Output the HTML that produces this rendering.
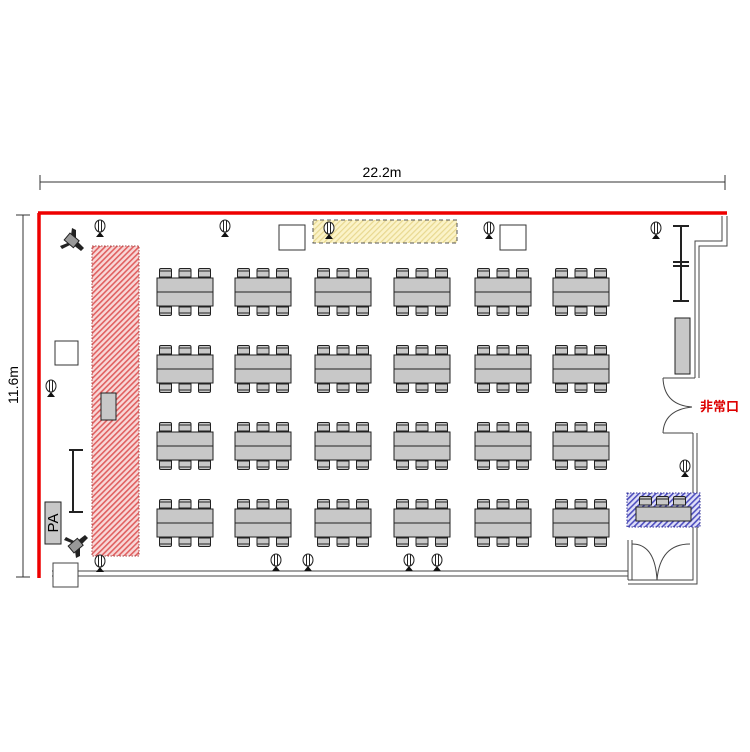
<!DOCTYPE html>
<html><head><style>body{margin:0;background:#fff}svg{display:block}</style></head><body>
<svg width="750" height="752" viewBox="0 0 750 752" xmlns="http://www.w3.org/2000/svg" font-family="Liberation Sans, sans-serif">
<defs>
<pattern id="rh" width="4" height="4" patternUnits="userSpaceOnUse" patternTransform="rotate(45)"><rect width="4" height="4" fill="#f8d8d8"/><rect width="1.6" height="4" fill="#e06060"/></pattern>
<pattern id="yh" width="4" height="4" patternUnits="userSpaceOnUse" patternTransform="rotate(45)"><rect width="4" height="4" fill="#fbf3c8"/><rect width="1.2" height="4" fill="#e8d890"/></pattern>
<pattern id="bh" width="4" height="4" patternUnits="userSpaceOnUse" patternTransform="rotate(45)"><rect width="4" height="4" fill="#e0e0f8"/><rect width="1.6" height="4" fill="#5050c0"/></pattern>
<g id="ch"><path d="M0.5 9 V2 Q0.5 0.5 2 0.5 H11 Q12.5 0.5 12.5 2 V9 Z" fill="#c8c8c8" stroke="#222" stroke-width="1"/><line x1="0.5" y1="3" x2="12.5" y2="3" stroke="#222"/></g>
<g id="tb">
<use href="#ch" x="-26" y="-24"/><use href="#ch" x="-6.5" y="-24"/><use href="#ch" x="13" y="-24"/>
<use href="#ch" x="-26" y="24" transform="scale(1,-1)" />
<rect x="-28" y="-14" width="56" height="28" fill="#c8c8c8" stroke="#222"/><line x1="-28" y1="0" x2="28" y2="0" stroke="#222"/>
</g>
<g id="tb2">
<use href="#ch" x="-26" y="-24"/><use href="#ch" x="-6.5" y="-24"/><use href="#ch" x="13" y="-24"/>
<g transform="scale(1,-1)"><use href="#ch" x="-26" y="-24"/><use href="#ch" x="-6.5" y="-24"/><use href="#ch" x="13" y="-24"/></g>
<rect x="-28" y="-14" width="56" height="28" fill="#c8c8c8" stroke="#222"/><line x1="-28" y1="0" x2="28" y2="0" stroke="#222"/>
</g>
<g id="mic"><ellipse cx="0" cy="-4" rx="5" ry="6" fill="#fff" stroke="#222"/><line x1="-1.5" y1="-10" x2="-1.5" y2="2" stroke="#222"/><line x1="1.5" y1="-10" x2="1.5" y2="2" stroke="#222"/><path d="M-4 7 L0 2 L4 7 Z" fill="#111"/></g>
</defs>
<!-- dimensions -->
<line x1="40" y1="182" x2="725" y2="182" stroke="#333"/>
<line x1="40" y1="175" x2="40" y2="190" stroke="#333"/><line x1="725" y1="175" x2="725" y2="190" stroke="#333"/>
<text x="382" y="177" font-size="14" text-anchor="middle">22.2m</text>
<line x1="23" y1="215" x2="23" y2="577" stroke="#333"/>
<line x1="16" y1="215" x2="30" y2="215" stroke="#333"/><line x1="16" y1="577" x2="30" y2="577" stroke="#333"/>
<text transform="translate(18,385) rotate(-90)" font-size="14" text-anchor="middle">11.6m</text>
<!-- walls -->
<path d="M52 571 H628 M52 576 H628" stroke="#444" stroke-width="1" fill="none"/>
<path d="M722 216 V241 H695 V378 M727 216 V246 H699 V378" stroke="#444" fill="none"/>
<path d="M663 378 H695 M663 433 H693" stroke="#444" fill="none"/>
<path d="M693 433 V580 H628 M697 433 V584 H628" stroke="#444" fill="none"/>
<path d="M628 540 V580 M632 540 V580" stroke="#444"/>
<path d="M632 544 Q655 544 657 580 M690 544 Q660 544 657 580" stroke="#444" fill="none"/>
<path d="M663 378 Q664 405 692 407 M663 433 Q664 410 692 407" stroke="#444" fill="none"/>
<path d="M38 213 H727 M39 213 V578" stroke="#e00" stroke-width="3.5" fill="none"/>
<rect x="53" y="563" width="25" height="24" fill="#fff" stroke="#444"/>
<text x="700" y="411" font-size="13" fill="#d00" font-family="Noto Sans CJK JP, sans-serif" font-weight="bold">非常口</text>
<!-- areas -->
<rect x="92" y="246" width="47" height="310" fill="url(#rh)" stroke="#a44" stroke-dasharray="1.5,1.5"/>
<rect x="101" y="393" width="15" height="27" fill="#c8c8c8" stroke="#222"/>
<rect x="313" y="220" width="144" height="23" fill="url(#yh)" stroke="#555" stroke-dasharray="4,3"/>
<rect x="279" y="225" width="26" height="25" fill="#fff" stroke="#333"/>
<rect x="500" y="225" width="26" height="25" fill="#fff" stroke="#333"/>
<rect x="55" y="341" width="23" height="24" fill="#fff" stroke="#333"/>
<rect x="675" y="318" width="15" height="56" fill="#c8c8c8" stroke="#222"/>
<rect x="45" y="502" width="16" height="42" fill="#c8c8c8" stroke="#222"/>
<text transform="translate(58,523) rotate(-90)" font-size="15" text-anchor="middle">PA</text>
<rect x="627" y="493" width="73" height="34" fill="url(#bh)" stroke="#339" stroke-dasharray="1.5,1.5"/>
<rect x="636" y="507" width="55" height="14" fill="#c8c8c8" stroke="#222"/>
<use href="#ch" x="639" y="496"/><use href="#ch" x="656" y="496"/><use href="#ch" x="673" y="496"/>
<!-- coat rack -->
<path d="M681 225 V300" stroke="#222" stroke-width="2"/>
<path d="M673 226 H689 M673 262 H689 M673 266 H689 M673 301 H689" stroke="#222" stroke-width="2"/>
<!-- screen stand -->
<path d="M73 450 V512 M69 512 H83 M69 450 H83" stroke="#222" stroke-width="2"/>
<!-- speakers -->
<g transform="translate(72,240)"><path d="M-12 6 L-2 2 L0 -12 L4 -10 L4 0 L12 8 L9 11 L0 4 L-10 9 Z" fill="#222"/><rect x="-6" y="-4" width="12" height="9" fill="#999" stroke="#222" transform="rotate(40)"/></g>
<g transform="translate(76,546)"><path d="M-12 -6 L-2 -2 L0 12 L4 10 L4 0 L12 -8 L9 -11 L0 -4 L-10 -9 Z" fill="#222"/><rect x="-6" y="-5" width="12" height="9" fill="#999" stroke="#222" transform="rotate(-40)"/></g>
<!-- mics -->
<use href="#mic" x="100" y="230"/><use href="#mic" x="225" y="230"/><use href="#mic" x="329" y="232"/>
<use href="#mic" x="489" y="232"/><use href="#mic" x="656" y="232"/><use href="#mic" x="51" y="390"/>
<use href="#mic" x="685" y="470"/><use href="#mic" x="100" y="565"/><use href="#mic" x="276" y="564"/>
<use href="#mic" x="308" y="564"/><use href="#mic" x="409" y="564"/><use href="#mic" x="437" y="564"/>
<!-- tables -->
<g>
<use href="#tb2" x="185" y="292"/><use href="#tb2" x="263" y="292"/><use href="#tb2" x="343" y="292"/><use href="#tb2" x="422" y="292"/><use href="#tb2" x="503" y="292"/><use href="#tb2" x="581" y="292"/>
<use href="#tb2" x="185" y="369"/><use href="#tb2" x="263" y="369"/><use href="#tb2" x="343" y="369"/><use href="#tb2" x="422" y="369"/><use href="#tb2" x="503" y="369"/><use href="#tb2" x="581" y="369"/>
<use href="#tb2" x="185" y="446"/><use href="#tb2" x="263" y="446"/><use href="#tb2" x="343" y="446"/><use href="#tb2" x="422" y="446"/><use href="#tb2" x="503" y="446"/><use href="#tb2" x="581" y="446"/>
<use href="#tb2" x="185" y="523"/><use href="#tb2" x="263" y="523"/><use href="#tb2" x="343" y="523"/><use href="#tb2" x="422" y="523"/><use href="#tb2" x="503" y="523"/><use href="#tb2" x="581" y="523"/>
</g>
</svg>
</body></html>
